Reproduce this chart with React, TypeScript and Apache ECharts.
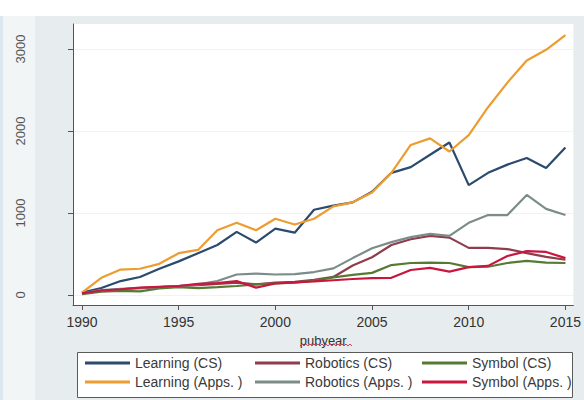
import React, { useEffect, useRef } from "react";
import * as echarts from "echarts";

const years = [1990, 1991, 1992, 1993, 1994, 1995, 1996, 1997, 1998, 1999, 2000, 2001, 2002, 2003, 2004, 2005, 2006, 2007, 2008, 2009, 2010, 2011, 2012, 2013, 2014, 2015];

const learningCS = [30, 85, 170, 220, 320, 410, 510, 610, 770, 640, 810, 760, 1040, 1090, 1130, 1260, 1490, 1560, 1710, 1860, 1340, 1490, 1590, 1670, 1550, 1800];
const roboticsCS = [20, 50, 70, 85, 95, 110, 120, 135, 150, 130, 150, 160, 185, 220, 360, 460, 610, 680, 720, 700, 575, 575, 560, 510, 465, 430];
const symbolCS = [10, 40, 50, 45, 80, 95, 85, 95, 110, 130, 140, 150, 175, 215, 245, 270, 365, 390, 395, 390, 340, 345, 390, 415, 395, 390];
const learningApps = [30, 210, 310, 320, 380, 510, 550, 790, 880, 790, 930, 860, 930, 1080, 1130, 1250, 1490, 1830, 1910, 1750, 1950, 2290, 2590, 2860, 2990, 3170];
const roboticsApps = [20, 60, 75, 85, 95, 110, 130, 170, 250, 260, 250, 255, 280, 325, 450, 570, 645, 705, 745, 720, 880, 975, 975, 1220, 1050, 975];
const symbolApps = [20, 55, 70, 90, 100, 110, 135, 145, 170, 90, 140, 155, 165, 180, 195, 205, 210, 305, 330, 285, 340, 355, 475, 535, 525, 450];

const seriesNames = ["Learning (CS)", "Robotics (CS)", "Symbol (CS)", "Learning (Apps. )", "Robotics (Apps. )", "Symbol (Apps. )"];
const seriesValues = [learningCS, roboticsCS, symbolCS, learningApps, roboticsApps, symbolApps];
const seriesColors = ["#2b4a6e", "#8f3d4c", "#567a34", "#ec9c30", "#7c8d89", "#c8163f"];

const xTicks = [1990, 1995, 2000, 2005, 2010, 2015];
const yTicks = [0, 1000, 2000, 3000];
const xTitle = "pubyear";

const FONT = "Liberation Sans, Arial, sans-serif";

export default function App() {
  const ref = useRef<HTMLDivElement>(null);
  useEffect(() => {
    if (!ref.current) return;
    const chart = echarts.init(ref.current, undefined, { renderer: "svg" });

    const legendPos = [
      { left: 85, top: 356 },
      { left: 255, top: 356 },
      { left: 422, top: 356 },
      { left: 85, top: 375 },
      { left: 255, top: 375 },
      { left: 422, top: 375 },
    ];

    const squiggle: number[][] = [];
    for (let k = 0; k <= 26; k++) {
      squiggle.push([300 + k * 2, k % 2 === 0 ? 346 : 344]);
    }

    const option: any = {
      animation: false,
      backgroundColor: "#ffffff",
      textStyle: { fontFamily: FONT },
      grid: {
        left: 73,
        top: 24,
        width: 502,
        height: 281,
        show: true,
        backgroundColor: "#ffffff",
        borderWidth: 0,
        containLabel: false,
      },
      graphic: [
        { type: "rect", z: -10, shape: { x: 0, y: 16, width: 3, height: 384 }, style: { fill: "#dbe7ec" } },
        { type: "rect", z: -10, shape: { x: 3, y: 16, width: 32, height: 384 }, style: { fill: "#f1f5f6" } },
        { type: "rect", z: -10, shape: { x: 35, y: 16, width: 549, height: 384 }, style: { fill: "#e7edee" } },
        {
          type: "rect",
          z: 3,
          shape: { x: 77.5, y: 352.5, width: 495, height: 45 },
          style: { fill: "#ffffff", stroke: "#5a5a5a", lineWidth: 1 },
        },
        {
          type: "polyline",
          z: 5,
          shape: { points: squiggle },
          style: { stroke: "#d04060", lineWidth: 1, fill: null },
        },
      ],
      legend: seriesNames.map((n, i) => ({
        data: [n],
        left: legendPos[i].left,
        top: legendPos[i].top,
        padding: 0,
        icon: "rect",
        itemWidth: 45,
        itemHeight: 3,
        selectedMode: false,
        z: 6,
        textStyle: { fontFamily: FONT, fontSize: 14, color: "#3a3a3a" },
      })),
      xAxis: {
        type: "value",
        min: 1989.536,
        max: 2015.41,
        name: xTitle,
        nameLocation: "middle",
        nameGap: 22,
        nameTextStyle: { fontFamily: FONT, fontSize: 13, color: "#333333" },
        axisLine: { show: true, onZero: false, lineStyle: { color: "#555555", width: 1 } },
        axisTick: { show: true, length: 5, customValues: xTicks, lineStyle: { color: "#555555" } },
        axisLabel: {
          customValues: xTicks,
          fontFamily: FONT,
          fontSize: 14,
          color: "#333333",
          margin: 10,
          formatter: (v: number) => String(Math.round(v)),
        },
        splitLine: { show: false },
      },
      yAxis: {
        type: "value",
        min: -122,
        max: 3305,
        axisLine: { show: true, lineStyle: { color: "#555555", width: 1 } },
        axisTick: { show: true, length: 5, customValues: yTicks, lineStyle: { color: "#555555" } },
        axisLabel: {
          customValues: yTicks,
          rotate: 90,
          fontFamily: FONT,
          fontSize: 13,
          color: "#555555",
          margin: 46,
          formatter: (v: number) => String(Math.round(v)),
        },
        splitLine: { show: true, lineStyle: { color: "#f2f2ef", width: 1 } },
      },
      series: seriesNames.map((n, i) => ({
        name: n,
        type: "line",
        symbol: "none",
        color: seriesColors[i],
        lineStyle: { width: 2.2, color: seriesColors[i] },
        data: years.map((y, j) => [y, seriesValues[i][j]]),
        z: 2 + i * 0.01,
      })),
    };

    chart.setOption(option);
    return () => chart.dispose();
  }, []);

  return (
    <div
      ref={ref}
      style={{ position: "fixed", left: 0, top: 0, width: 584, height: 400 }}
    />
  );
}
